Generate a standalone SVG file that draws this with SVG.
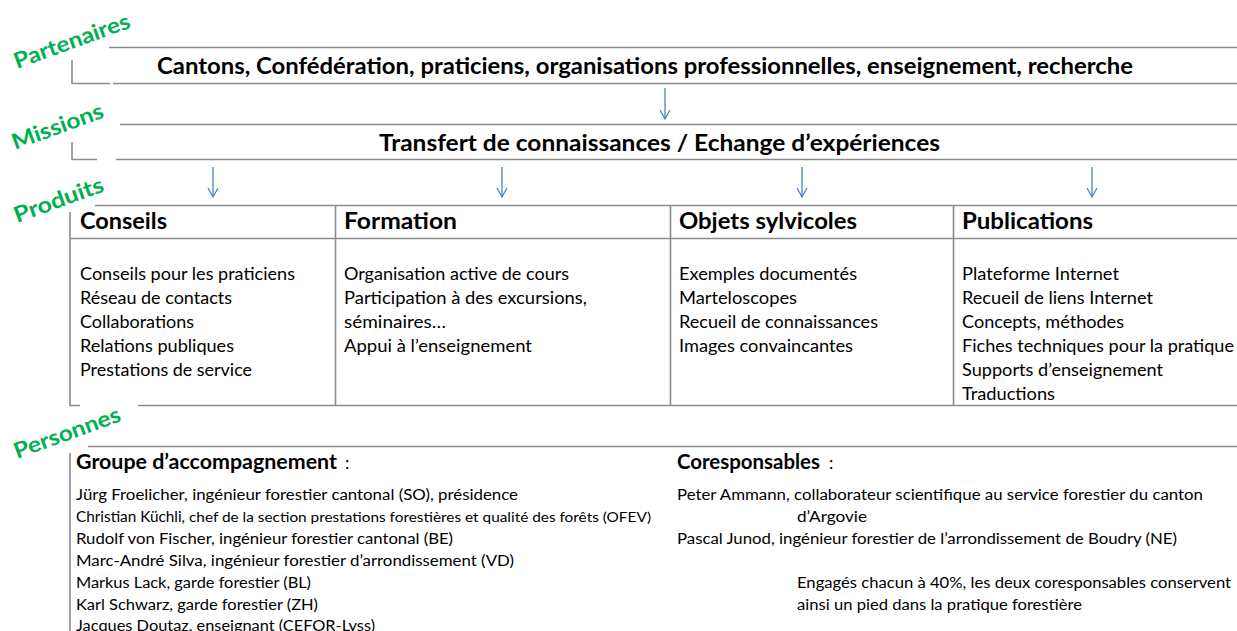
<svg xmlns="http://www.w3.org/2000/svg" width="1237" height="631" viewBox="0 0 1237 631">
  <style>
    .rule { stroke: #8c8c8c; stroke-width: 1.6; fill: none; }
    .flow { stroke: #4f81bd; stroke-width: 1.3; fill: none; }
    .tag { font-family: Lato, "Liberation Sans", sans-serif; font-weight: bold; font-size: 22px; fill: #00b050; }
    .band { font-family: Lato, "Liberation Sans", sans-serif; font-weight: bold; font-size: 22px; fill: #000; }
    .head { font-family: Lato, "Liberation Sans", sans-serif; font-weight: bold; font-size: 22.5px; fill: #000; }
    .item { font-family: Lato, "Liberation Sans", sans-serif; font-size: 17px; fill: #000; }
    .sub { font-family: Lato, "Liberation Sans", sans-serif; font-weight: bold; font-size: 20.5px; fill: #000; }
    .name { font-family: Lato, "Liberation Sans", sans-serif; font-size: 15.5px; fill: #000; }
    .small { font-family: Lato, "Liberation Sans", sans-serif; font-size: 13.5px; fill: #000; }
  </style>
  <defs>
    <marker id="chevron" markerWidth="12" markerHeight="12" refX="10" refY="6" orient="auto" markerUnits="userSpaceOnUse" viewBox="0 0 12 12">
      <path d="M1,1 L10,6 L1,11" stroke="#4f81bd" stroke-width="1.3" fill="none"/>
    </marker>
  </defs>
  <rect width="1237" height="631" fill="#ffffff"/>

  <!-- section labels -->
  <g id="label-partenaires"><text class="tag" transform="translate(17,69) rotate(-20)" textLength="122" lengthAdjust="spacingAndGlyphs">Partenaires</text></g>
  <g id="label-missions"><text class="tag" transform="translate(15,150) rotate(-20)" textLength="96" lengthAdjust="spacingAndGlyphs">Missions</text></g>
  <g id="label-produits"><text class="tag" transform="translate(17,223) rotate(-20)" textLength="94" lengthAdjust="spacingAndGlyphs">Produits</text></g>
  <g id="label-personnes"><text class="tag" transform="translate(17,459) rotate(-20)" textLength="112" lengthAdjust="spacingAndGlyphs">Personnes</text></g>

  <!-- partners band -->
  <g id="partenaires">
    <path class="rule" d="M109,47.5 H1237 M72,60 V83.5 H110 M113,83.5 H1237"/>
    <text class="band" x="157" y="74" textLength="976" lengthAdjust="spacingAndGlyphs">Cantons, Confédération, praticiens, organisations professionnelles, enseignement, recherche</text>
  </g>

  <!-- missions band -->
  <g id="missions">
    <path class="rule" d="M120,124.5 H1237 M72,142 V159.5 H97 M116,159.5 H1237"/>
    <text class="band" x="379" y="151" textLength="561" lengthAdjust="spacingAndGlyphs">Transfert de connaissances / Echange d’expériences</text>
  </g>

  <!-- products table frame -->
  <g id="produits-frame">
    <path class="rule" d="M95,205.5 H1237 M70,212 V405.5 H80 M138,405.5 H1237 M70,238.5 H1237 M335.5,205.5 V405.5 M670.5,205.5 V405.5 M953.5,205.5 V405.5"/>
  </g>

  <g id="conseils">
    <text class="head" x="80" y="229" textLength="87" lengthAdjust="spacingAndGlyphs">Conseils</text>
    <text class="item" x="80" y="280" textLength="215" lengthAdjust="spacingAndGlyphs">Conseils pour les praticiens</text>
    <text class="item" x="80" y="304" textLength="152" lengthAdjust="spacingAndGlyphs">Réseau de contacts</text>
    <text class="item" x="80" y="328" textLength="114" lengthAdjust="spacingAndGlyphs">Collaborations</text>
    <text class="item" x="80" y="352" textLength="154" lengthAdjust="spacingAndGlyphs">Relations publiques</text>
    <text class="item" x="80" y="376" textLength="172" lengthAdjust="spacingAndGlyphs">Prestations de service</text>
  </g>

  <g id="formation">
    <text class="head" x="344" y="229" textLength="113" lengthAdjust="spacingAndGlyphs">Formation</text>
    <text class="item" x="344" y="280" textLength="225" lengthAdjust="spacingAndGlyphs">Organisation active de cours</text>
    <text class="item" x="344" y="304" textLength="243" lengthAdjust="spacingAndGlyphs">Participation à des excursions,</text>
    <text class="item" x="344" y="328" textLength="102" lengthAdjust="spacingAndGlyphs">séminaires…</text>
    <text class="item" x="344" y="352" textLength="188" lengthAdjust="spacingAndGlyphs">Appui à l’enseignement</text>
  </g>

  <g id="objets">
    <text class="head" x="679" y="229" textLength="178" lengthAdjust="spacingAndGlyphs">Objets sylvicoles</text>
    <text class="item" x="679" y="280" textLength="178" lengthAdjust="spacingAndGlyphs">Exemples documentés</text>
    <text class="item" x="679" y="304" textLength="118" lengthAdjust="spacingAndGlyphs">Marteloscopes</text>
    <text class="item" x="679" y="328" textLength="199" lengthAdjust="spacingAndGlyphs">Recueil de connaissances</text>
    <text class="item" x="679" y="352" textLength="174" lengthAdjust="spacingAndGlyphs">Images convaincantes</text>
  </g>

  <g id="publications">
    <text class="head" x="962" y="229" textLength="131" lengthAdjust="spacingAndGlyphs">Publications</text>
    <text class="item" x="962" y="280" textLength="157" lengthAdjust="spacingAndGlyphs">Plateforme Internet</text>
    <text class="item" x="962" y="304" textLength="191" lengthAdjust="spacingAndGlyphs">Recueil de liens Internet</text>
    <text class="item" x="962" y="328" textLength="162" lengthAdjust="spacingAndGlyphs">Concepts, méthodes</text>
    <text class="item" x="962" y="352" textLength="272" lengthAdjust="spacingAndGlyphs">Fiches techniques pour la pratique</text>
    <text class="item" x="962" y="376" textLength="201" lengthAdjust="spacingAndGlyphs">Supports d’enseignement</text>
    <text class="item" x="962" y="400" textLength="93" lengthAdjust="spacingAndGlyphs">Traductions</text>
  </g>

  <!-- people section -->
  <g id="personnes-frame">
    <path class="rule" d="M88,446.5 H1237 M70,453 V631"/>
  </g>

  <g id="groupe">
    <text x="76" y="469"><tspan class="sub" textLength="261" lengthAdjust="spacingAndGlyphs">Groupe d’accompagnement</tspan><tspan class="item" font-size="18px" dx="8">:</tspan></text>
    <text class="name" x="76" y="500" textLength="442" lengthAdjust="spacingAndGlyphs">Jürg Froelicher, ingénieur forestier cantonal (SO), présidence</text>
    <text x="76" y="522"><tspan class="name" textLength="113" lengthAdjust="spacingAndGlyphs">Christian Küchli, </tspan><tspan class="small" textLength="462" lengthAdjust="spacingAndGlyphs">chef de la section prestations forestières et qualité des forêts (OFEV)</tspan></text>
    <text class="name" x="76" y="544" textLength="377" lengthAdjust="spacingAndGlyphs">Rudolf von Fischer, ingénieur forestier cantonal (BE)</text>
    <text class="name" x="76" y="566" textLength="438" lengthAdjust="spacingAndGlyphs">Marc-André Silva, ingénieur forestier d’arrondissement (VD)</text>
    <text class="name" x="76" y="588" textLength="235" lengthAdjust="spacingAndGlyphs">Markus Lack, garde forestier (BL)</text>
    <text class="name" x="76" y="610" textLength="242" lengthAdjust="spacingAndGlyphs">Karl Schwarz, garde forestier (ZH)</text>
    <text class="name" x="76" y="631" textLength="299" lengthAdjust="spacingAndGlyphs">Jacques Doutaz, enseignant (CEFOR-Lyss)</text>
  </g>

  <g id="coresponsables">
    <text x="677" y="469"><tspan class="sub" textLength="143" lengthAdjust="spacingAndGlyphs">Coresponsables</tspan><tspan class="item" font-size="18px" dx="9">:</tspan></text>
    <text class="name" x="677" y="500" textLength="526" lengthAdjust="spacingAndGlyphs">Peter Ammann, collaborateur scientifique au service forestier du canton</text>
    <text class="name" x="797" y="522" textLength="70" lengthAdjust="spacingAndGlyphs">d’Argovie</text>
    <text class="name" x="677" y="544" textLength="500" lengthAdjust="spacingAndGlyphs">Pascal Junod, ingénieur forestier de l’arrondissement de Boudry (NE)</text>
    <text class="name" x="797" y="588" textLength="434" lengthAdjust="spacingAndGlyphs">Engagés chacun à 40%, les deux coresponsables conservent</text>
    <text class="name" x="797" y="610" textLength="285" lengthAdjust="spacingAndGlyphs">ainsi un pied dans la pratique forestière</text>
  </g>

  <!-- flow arrows -->
  <g id="connectors">
    <line class="flow" x1="665" y1="88" x2="665" y2="119" marker-end="url(#chevron)"/>
    <line class="flow" x1="213" y1="167" x2="213" y2="197" marker-end="url(#chevron)"/>
    <line class="flow" x1="502" y1="167" x2="502" y2="197" marker-end="url(#chevron)"/>
    <line class="flow" x1="802" y1="167" x2="802" y2="197" marker-end="url(#chevron)"/>
    <line class="flow" x1="1092" y1="167" x2="1092" y2="197" marker-end="url(#chevron)"/>
  </g>
</svg>
